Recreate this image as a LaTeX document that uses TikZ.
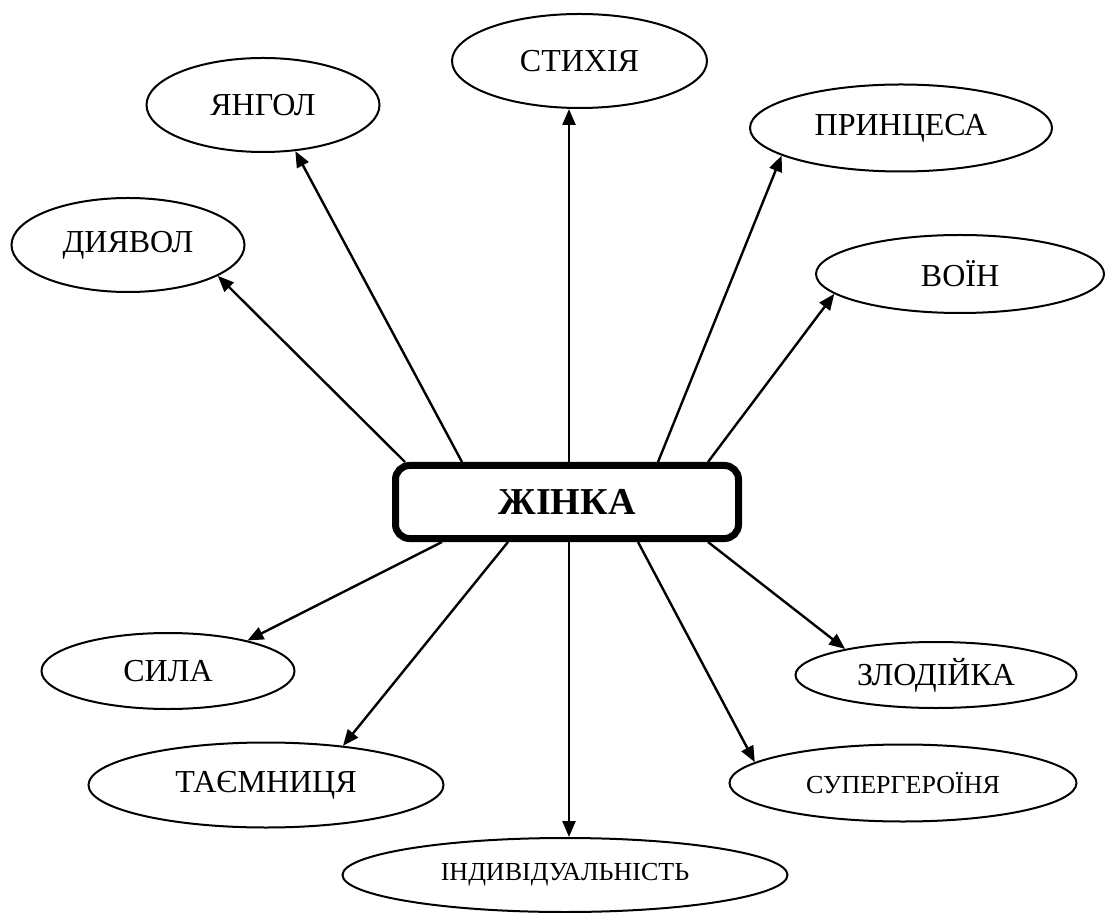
\documentclass[tikz,border=0pt]{standalone}
\usepackage{fontspec}
\setmainfont{Liberation Serif}
\usetikzlibrary{arrows.meta,calc,shapes.geometric}
\tikzset{
  ell/.style={draw, line width=1pt, ellipse, inner sep=0pt, font=\fontsize{16}{19}\selectfont},
  ellsmall/.style={ell, font=\fontsize{13}{16}\selectfont},
  centerbox/.style={draw, line width=3.5pt, rounded corners=7pt, inner sep=0pt,
    minimum width=171.5pt, minimum height=36.5pt, font=\fontsize{19}{23}\selectfont\bfseries},
  conn/.style={line width=1.2pt, -{Triangle[length=8pt,width=6.5pt]}}
}
\begin{document}
\begin{tikzpicture}[x=0.5pt,y=-0.5pt]
\useasboundingbox (0,0) rectangle (1106,913);
\node[centerbox] (box) at (567,502) {ЖІНКА};
\node[ell, minimum width=127.5pt, minimum height=47pt] (stix) at (579.5,61) {СТИХІЯ};
\node[ell, minimum width=116.5pt, minimum height=47pt] (yang) at (263,105) {ЯНГОЛ};
\node[ell, minimum width=116.5pt, minimum height=47pt] (diya) at (128,245) {ДИЯВОЛ};
\node[ell, minimum width=151pt, minimum height=43.5pt] (prin) at (901,128) {ПРИНЦЕСА};
\node[ell, minimum width=144pt, minimum height=39pt] (voin) at (960,274) {ВОЇН};
\node[ell, minimum width=126.5pt, minimum height=38pt] (syla) at (168,671) {СИЛА};
\node[ell, minimum width=177.5pt, minimum height=42.5pt] (taye) at (266,785) {ТАЄМНИЦЯ};
\node[ell, minimum width=140.5pt, minimum height=33pt] (zlod) at (936,675) {ЗЛОДІЙКА};
\node[ellsmall, minimum width=173.5pt, minimum height=38.5pt] (super) at (903,783) {СУПЕРГЕРОЇНЯ};
\node[ellsmall, minimum width=222.5pt, minimum height=37pt] (indy) at (565,875) {ІНДИВІДУАЛЬНІСТЬ};

\coordinate (tn) at ($(box.north)+(2,0)$);
\coordinate (ts) at ($(box.south)+(2,0)$);
\draw[conn] (tn) -- (tn |- stix.south);
\draw[conn] ($(box.north west)+(70,0)$) -- (yang.-55);
\draw[conn] ($(box.north west)+(13,0)$) -- (diya.-19);
\draw[conn] ($(box.north west)+(266,0)$) -- (prin.193);
\draw[conn] ($(box.north west)+(316,0)$) -- (voin.-171.5);
\draw[conn] ($(box.south west)+(50,0)$) -- (syla.21.5);
\draw[conn] ($(box.south west)+(116,0)$) -- (taye.27.5);
\draw[conn] (ts) -- (ts |- indy.north);
\draw[conn] ($(box.south west)+(246,0)$) -- (super.172.6);
\draw[conn] ($(box.south west)+(316,0)$) -- (zlod.164.3);
\end{tikzpicture}
\end{document}
